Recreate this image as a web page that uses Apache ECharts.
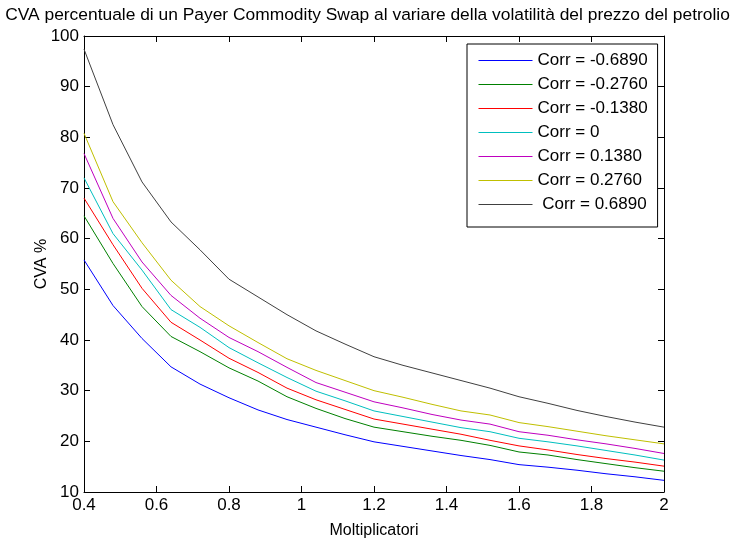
<!DOCTYPE html>
<html>
<head>
<meta charset="utf-8">
<script src="https://cdn.jsdelivr.net/npm/echarts@6/dist/echarts.min.js"></script>
<style>
  html, body { margin: 0; padding: 0; background: #fff; }
  #chart { width: 735px; height: 542px; }
</style>
</head>
<body>
<div id="chart"></div>
<script>
  // moltiplicatori della volatilità
  const xs = [0.4, 0.48, 0.56, 0.64, 0.72, 0.8, 0.88, 0.96, 1.04, 1.12, 1.2,
    1.28, 1.36, 1.44, 1.52, 1.6, 1.68, 1.76, 1.84, 1.92, 2.0]

  const corrNames = ['Corr = -0.6890', 'Corr = -0.2760', 'Corr = -0.1380', 'Corr = 0',
    'Corr = 0.1380', 'Corr = 0.2760', ' Corr = 0.6890']

  const corrM0689 = [55.8, 46.8, 40.3, 34.7, 31.3, 28.6, 26.2, 24.3, 22.8, 21.3, 19.9,
    19.0, 18.1, 17.2, 16.4, 15.4, 14.9, 14.3, 13.6, 13.0, 12.3]
  const corrM0276 = [64.5, 55.1, 46.6, 40.7, 37.7, 34.5, 31.9, 28.8, 26.5, 24.5, 22.8,
    21.9, 21.0, 20.2, 19.2, 17.9, 17.3, 16.4, 15.6, 14.8, 14.1]
  const corrM0138 = [68.0, 58.8, 50.2, 43.5, 40.0, 36.4, 33.6, 30.5, 28.2, 26.3, 24.4,
    23.4, 22.4, 21.4, 20.2, 19.1, 18.3, 17.4, 16.6, 15.9, 15.1]
  const corr0 = [72.0, 61.0, 53.8, 46.0, 42.5, 38.5, 35.5, 32.6, 29.9, 28.0, 26.0,
    24.9, 23.8, 22.7, 21.9, 20.6, 19.9, 19.1, 18.2, 17.3, 16.3]
  const corrP0138 = [76.8, 64.0, 55.4, 48.8, 44.3, 40.5, 37.7, 34.6, 31.6, 29.7, 27.8,
    26.6, 25.3, 24.2, 23.4, 21.9, 21.2, 20.3, 19.5, 18.6, 17.6]
  const corrP0276 = [80.8, 67.3, 59.2, 51.8, 46.6, 42.8, 39.5, 36.3, 34.0, 32.0, 30.0,
    28.7, 27.3, 26.0, 25.2, 23.7, 22.9, 22.0, 21.1, 20.3, 19.5]
  const corrP0689 = [97.4, 82.5, 71.2, 63.3, 57.8, 52.0, 48.5, 45.0, 41.8, 39.2, 36.7,
    35.0, 33.5, 32.0, 30.5, 28.8, 27.5, 26.1, 24.9, 23.8, 22.8]

  const yTicks = [10, 100, 10] // min, max, passo
  const xTicks = [0.4, 2, 0.2]

  const allSeries = [corrM0689, corrM0276, corrM0138, corr0, corrP0138, corrP0276, corrP0689]
  const colors = ['#0000ff', '#008000', '#ff0000', '#00bfbf', '#bf00bf', '#bfbf00', '#404040']

  const FONT = 'Liberation Sans, Arial, sans-serif'

  let myChart = echarts.init(document.getElementById('chart'))

  const boxAxis = {
    axisLine: { show: true, onZero: false, lineStyle: { color: '#000', width: 1 } },
    axisTick: { show: true, inside: true, length: 6, lineStyle: { color: '#000' } },
    splitLine: { show: false }
  }

  myChart.setOption({
    backgroundColor: '#fff',
    animation: false,
    title: {
      text: 'CVA percentuale di un Payer Commodity Swap al variare della volatilità del prezzo del petrolio',
      left: 'center',
      top: 2,
      textStyle: { fontFamily: FONT, fontSize: 17.4, fontWeight: 'normal', color: '#000' }
    },
    legend: {
      orient: 'vertical',
      left: 467,
      top: 44,
      padding: [8, 10, 14, 11],
      itemWidth: 54,
      itemHeight: 14,
      itemGap: 7,
      itemStyle: { opacity: 0 },
      lineStyle: { width: 1 },
      borderColor: '#000',
      borderWidth: 1,
      borderRadius: 0,
      backgroundColor: '#fff',
      data: corrNames,
      textStyle: { fontFamily: FONT, fontSize: 17, lineHeight: 17, color: '#000' }
    },
    grid: {
      left: 84,
      right: 71,
      top: 36,
      bottom: 50,
      outerBoundsMode: 'none'
    },
    xAxis: [{
      type: 'value',
      min: xTicks[0],
      max: xTicks[1],
      interval: xTicks[2],
      name: 'Moltiplicatori',
      nameLocation: 'middle',
      nameGap: 31,
      nameMoveOverlap: false,
      nameTextStyle: { fontFamily: FONT, fontSize: 16, color: '#000' },
      axisLabel: { fontFamily: FONT, fontSize: 17, color: '#000', margin: 5 },
      ...boxAxis
    }, {
      type: 'value',
      position: 'top',
      min: xTicks[0],
      max: xTicks[1],
      interval: xTicks[2],
      axisLabel: { show: false },
      ...boxAxis
    }],
    yAxis: [{
      type: 'value',
      min: yTicks[0],
      max: yTicks[1],
      interval: yTicks[2],
      name: 'CVA %',
      nameLocation: 'middle',
      nameRotate: 90,
      nameGap: 34,
      nameMoveOverlap: false,
      nameTextStyle: { fontFamily: FONT, fontSize: 16, color: '#000' },
      axisLabel: { fontFamily: FONT, fontSize: 17, color: '#000', margin: 5 },
      ...boxAxis
    }, {
      type: 'value',
      position: 'right',
      min: yTicks[0],
      max: yTicks[1],
      interval: yTicks[2],
      axisLabel: { show: false },
      ...boxAxis
    }],
    series: allSeries.map((vals, i) => {
      return {
        name: corrNames[i],
        type: 'line',
        symbol: 'none',
        smooth: false,
        color: colors[i],
        lineStyle: { width: 1, color: colors[i] },
        data: xs.map((x, j) => [x, vals[j]])
      }
    })
  })
</script>
</body>
</html>
